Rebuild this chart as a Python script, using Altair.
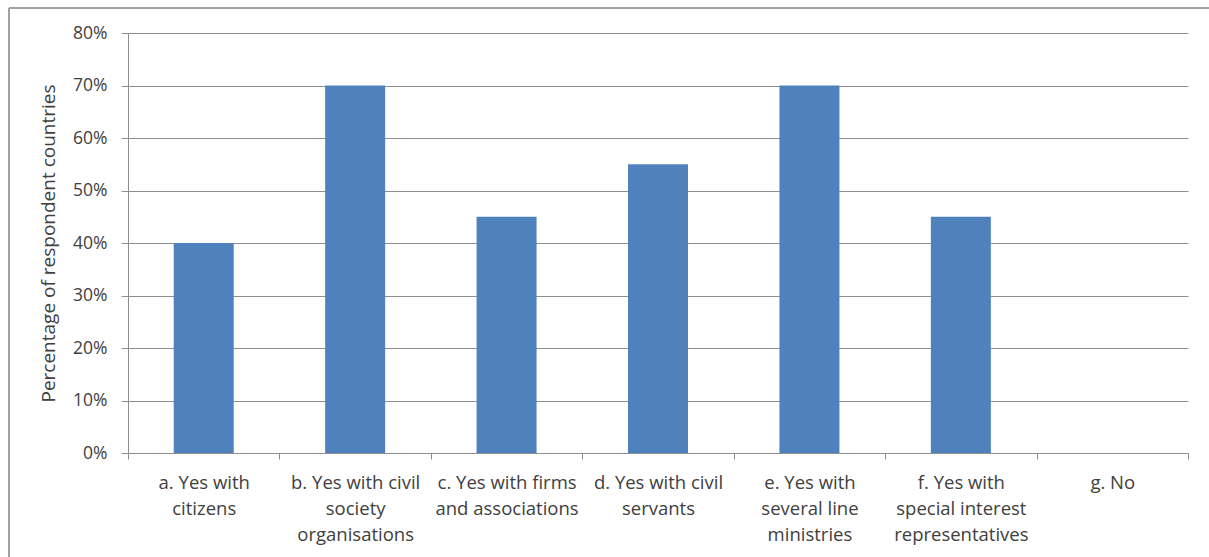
import altair as alt
import pandas as pd

# Category labels, one list of lines per bar
label_lines = [
    ["a. Yes with", "citizens"],
    ["b. Yes with civil", "society", "organisations"],
    ["c. Yes with firms", "and associations"],
    ["d. Yes with civil", "servants"],
    ["e. Yes with", "several line", "ministries"],
    ["f. Yes with", "special interest", "representatives"],
    ["g. No"],
]
shares = [0.40, 0.70, 0.45, 0.55, 0.70, 0.45, 0.0]
y_ticks = [0.0, 0.1, 0.2, 0.3, 0.4, 0.5, 0.6, 0.7, 0.8]

categories = ["|".join(lines) for lines in label_lines]
df = pd.DataFrame({"category": categories, "share": shares})

FONT = "Open Sans"
TEXT = "#404040"
GRID = "#8E8E8E"

bars = alt.Chart(df).mark_bar(color="#4F81BD", size=60).encode(
    x=alt.X(
        "category:N",
        sort=categories,
        title=None,
        scale=alt.Scale(paddingInner=0, paddingOuter=0),
        axis=alt.Axis(
            labelExpr="split(datum.label, '|')",
            labelAngle=0,
            labelAlign="center",
            labelBaseline="top",
            labelFont=FONT,
            labelFontSize=18.5,
            labelColor=TEXT,
            labelLineHeight=26,
            labelPadding=14,
            labelLimit=0,
            labelOverlap=False,
            labelBound=False,
            tickBand="extent",
            tickSize=6,
            tickColor=GRID,
            domainColor=GRID,
            grid=False,
        ),
    ),
    y=alt.Y(
        "share:Q",
        title="Percentage of respondent countries",
        scale=alt.Scale(domain=[0, 0.8], nice=False),
        axis=alt.Axis(
            values=y_ticks,
            format=".0%",
            labelFont=FONT,
            labelFontSize=17.5,
            labelColor=TEXT,
            labelPadding=14,
            tickSize=7,
            tickColor=GRID,
            domainColor=GRID,
            gridColor=GRID,
            titleFont=FONT,
            titleFontSize=19,
            titleFontWeight="normal",
            titleColor=TEXT,
            titlePadding=14,
        ),
    ),
)

# Outer frame of the chart (top and left edges)
frame_top = alt.Chart(df).mark_rule(color="#A0A0A0", strokeWidth=1).encode(
    x=alt.value(-119), x2=alt.value(1100), y=alt.value(-25)
)
frame_left = alt.Chart(df).mark_rule(color="#A0A0A0", strokeWidth=1).encode(
    x=alt.value(-119), y=alt.value(-25), y2=alt.value(540)
)

chart = (
    alt.layer(bars, frame_top, frame_left)
    .properties(
        width=1060,
        height=420,
        autosize=alt.AutoSizeParams(type="none"),
        padding={"left": 128, "top": 33, "right": 21, "bottom": 104},
        background="white",
    )
    .configure_view(stroke=None)
)

chart.save("out.html", embed_options={"renderer": "svg", "actions": False})
